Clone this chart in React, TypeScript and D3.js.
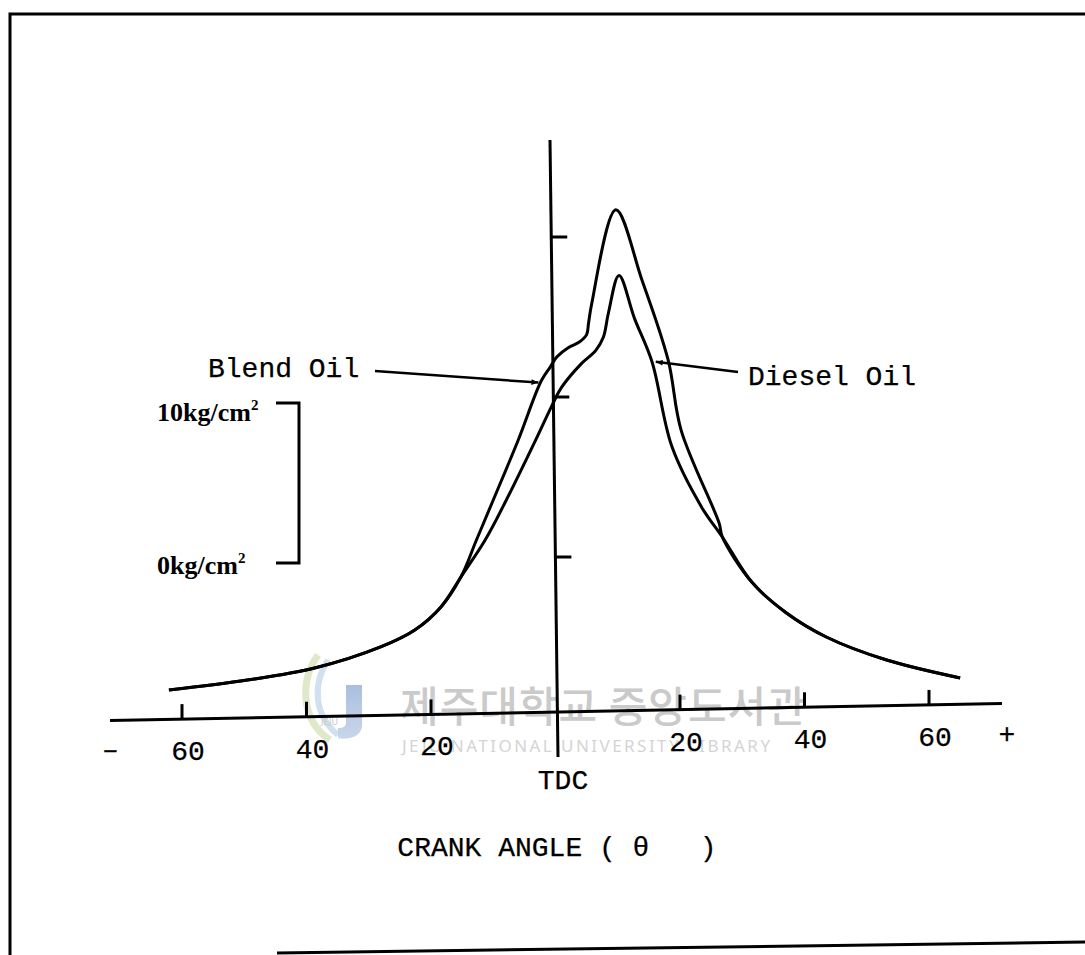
import React from "react";
import * as d3 from "d3";

// Crank angle (deg, relative to TDC) and cylinder pressure (kg/cm², above baseline)
const blendAngle = [-62.1, -49.5, -38.7, -28.1, -22.6, -18.4, -15.2, -12.7, -10.0, -6.0, -2.3, -0.8, 0.2, 2.1, 3.7, 5.0, 5.3, 5.8, 9.7, 13.9, 18.1, 20.2, 26.3, 26.8, 31.6, 37.1, 43.5, 53.2, 65.0];
const blendPressure = [1.69, 2.31, 3.06, 4.38, 5.44, 6.88, 8.75, 11.06, 13.56, 17.3, 21.0, 21.9, 22.5, 23.1, 23.4, 23.9, 24.6, 25.8, 31.7, 27.3, 22.3, 17.9, 12.1, 11.25, 8.4, 6.5, 5.0, 3.56, 2.44];

const dieselAngle = [-62.1, -49.5, -38.7, -28.1, -22.6, -18.4, -15.2, -11.3, -7.9, -3.2, -0.65, 0.97, 4.2, 6.45, 7.7, 8.5, 10.2, 12.7, 15.5, 18.7, 23.5, 26.8, 31.6, 37.1, 43.5, 53.2, 65.0];
const dieselPressure = [1.69, 2.31, 3.06, 4.38, 5.44, 6.88, 8.75, 11.06, 13.56, 17.3, 19.4, 20.6, 22.1, 22.9, 23.75, 25.25, 27.6, 24.9, 22.2, 16.9, 13.1, 11.25, 8.4, 6.5, 5.0, 3.56, 2.44];

const xTicks = [-60, -40, -20, 20, 40, 60];
const xTickLabels = ["60", "40", "20", "20", "40", "60"];
const yTicks = [10, 20, 30];

const blendArrowTip: [number, number] = [-2.74, 20.9];
const dieselArrowTip: [number, number] = [16.1, 22.2];

const MONO = "'Liberation Mono', 'DejaVu Sans Mono', monospace";
const SERIF = "'Liberation Serif', 'DejaVu Serif', serif";

export default function App() {
  const W = 1085;
  const H = 955;
  const x = d3.scaleLinear().domain([-60, 60]).range([182, 929]);
  const y = d3.scaleLinear().domain([0, 30]).range([717, 237]);
  // slight scan rotation of the axes
  const axisY = (px: number) => 712 - 0.019 * (px - 557);
  const axisX = (py: number) => 550 + ((py - 140) * 8) / 617;

  const line = d3
    .line<[number, number]>()
    .x((d) => x(d[0]))
    .y((d) => y(d[1]))
    .curve(d3.curveCatmullRom.alpha(0.5));

  const blendPts = blendAngle.map((a, i) => [a, blendPressure[i]] as [number, number]);
  const dieselPts = dieselAngle.map((a, i) => [a, dieselPressure[i]] as [number, number]);

  const axL = 110;
  const axR = 1002;
  const unit = y(0) - y(10); // 10 kg/cm² in pixels
  const bracketBottom = 563;
  const bracketX = 299;

  const textStyle = { fontFamily: MONO, fontSize: 28, fill: "#000", stroke: "#000", strokeWidth: 0.25 } as const;

  return (
    <svg width={W} height={H} style={{ position: "absolute", left: 0, top: 0, background: "#fff" }}>
      <defs>
        <marker id="arr" viewBox="0 0 10 10" refX="10" refY="5" markerWidth="9" markerHeight="7" orient="auto" markerUnits="userSpaceOnUse">
          <path d="M0,1 L10,5 L0,9 Z" fill="#000" />
        </marker>
        <linearGradient id="logoBlue" x1="0" y1="0" x2="0" y2="1">
          <stop offset="0" stopColor="#a9bfe0" />
          <stop offset="1" stopColor="#c9d6ea" />
        </linearGradient>
      </defs>
      <rect x={0} y={0} width={W} height={H} fill="#fff" />

      {/* watermark */}
      <g>
        <path d="M318,655 C300,680 300,720 330,740" fill="none" stroke="#dfe8c8" strokeWidth={7} />
        <path d="M328,660 C312,685 314,715 338,735" fill="none" stroke="#cfe0ee" strokeWidth={6} />
        <path d="M346,685 L362,685 L362,725 C362,738 346,740 338,738 L338,728 C344,728 346,726 346,722 Z" fill="url(#logoBlue)" />
        <text x={321} y={725} fontFamily="'Noto Sans', sans-serif" fontSize={9} fill="#c8c8c8">JEJU</text>
        <text x={400} y={722} fontFamily="'Noto Sans CJK KR', sans-serif" fontSize={42} fontWeight={500} fill="#cacaca" letterSpacing={1}>
          제주대학교 중앙도서관
        </text>
        <text x={402} y={752} fontFamily="'Noto Sans', sans-serif" fontSize={17} fill="#d4d4d4" textLength={368}>
          JEJU NATIONAL UNIVERSITY LIBRARY
        </text>
      </g>

      {/* frame */}
      <path d={`M1090,14 L10,14 L10,956`} fill="none" stroke="#000" strokeWidth={3} />
      <path d={`M277,953 L1090,942`} fill="none" stroke="#000" strokeWidth={3} />

      {/* x axis */}
      <line x1={axL} y1={axisY(axL)} x2={axR} y2={axisY(axR)} stroke="#000" strokeWidth={3} />
      {xTicks.map((t) => (
        <line key={"xt" + t} x1={x(t)} x2={x(t)} y1={axisY(x(t))} y2={axisY(x(t)) - 15} stroke="#000" strokeWidth={3} />
      ))}
      {xTicks.map((t, i) => (
        <text key={"xl" + t} x={x(t) + 6} y={axisY(x(t)) + 41} textAnchor="middle" {...textStyle}>
          {xTickLabels[i]}
        </text>
      ))}
      <text x={x(-71.5)} y={axisY(x(-71.5)) + 38} textAnchor="middle" {...textStyle}>–</text>
      <text x={x(72.5)} y={axisY(x(72.5)) + 40} textAnchor="middle" {...textStyle}>+</text>

      {/* vertical (TDC) axis */}
      <line x1={axisX(140)} y1={140} x2={axisX(757)} y2={757} stroke="#000" strokeWidth={3} />
      {yTicks.map((t) => (
        <line key={"yt" + t} x1={axisX(y(t))} x2={axisX(y(t)) + 16} y1={y(t)} y2={y(t)} stroke="#000" strokeWidth={3} />
      ))}
      <text x={563} y={789} textAnchor="middle" {...textStyle}>TDC</text>

      <text x={557} y={856} textAnchor="middle" {...textStyle} style={{ whiteSpace: "pre" }}>
        {"CRANK ANGLE ( θ   )"}
      </text>

      {/* pressure scale bracket */}
      <path
        d={`M${bracketX - 23},${bracketBottom - unit} L${bracketX},${bracketBottom - unit} L${bracketX},${bracketBottom} L${bracketX - 23},${bracketBottom}`}
        fill="none"
        stroke="#000"
        strokeWidth={3}
      />
      <text x={157} y={421} fontFamily={SERIF} fontSize={26} fontWeight="bold" fill="#000">
        10kg/cm<tspan dy={-11} fontSize={15}>2</tspan>
      </text>
      <text x={157} y={574} fontFamily={SERIF} fontSize={26} fontWeight="bold" fill="#000">
        0kg/cm<tspan dy={-11} fontSize={15}>2</tspan>
      </text>

      {/* curves */}
      <path d={line(blendPts) || ""} fill="none" stroke="#000" strokeWidth={3} strokeLinejoin="round" />
      <path d={line(dieselPts) || ""} fill="none" stroke="#000" strokeWidth={3} strokeLinejoin="round" />

      {/* annotations */}
      <text x={208} y={377} {...textStyle}>Blend Oil</text>
      <line x1={375} y1={371} x2={x(blendArrowTip[0])} y2={y(blendArrowTip[1])} stroke="#000" strokeWidth={2.5} markerEnd="url(#arr)" />
      <text x={748} y={385} {...textStyle}>Diesel Oil</text>
      <line x1={738} y1={372} x2={x(dieselArrowTip[0])} y2={y(dieselArrowTip[1])} stroke="#000" strokeWidth={2.5} markerEnd="url(#arr)" />
    </svg>
  );
}
